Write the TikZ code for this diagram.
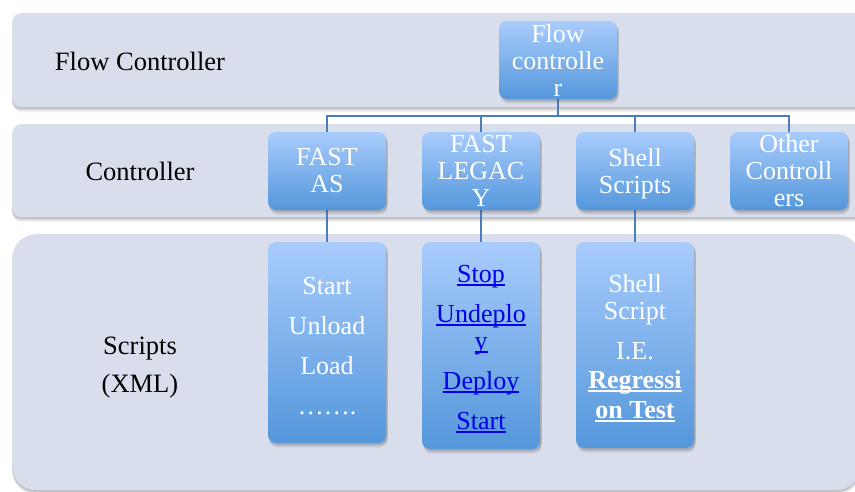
\documentclass[tikz,border=0pt]{standalone}
\usepackage{fontspec}
\setmainfont{Liberation Serif}
\usetikzlibrary{backgrounds}

\definecolor{bandfill}{RGB}{217,222,236}
\definecolor{boxtop}{RGB}{169,204,252}
\definecolor{boxbot}{RGB}{84,151,219}
\definecolor{connline}{RGB}{74,126,187}
\definecolor{linkblue}{RGB}{0,0,230}
\definecolor{shadowgray}{RGB}{60,60,60}

% underline at a fixed depth, crossing descenders
\newcommand\fixul[1]{\setbox0\hbox{#1}\rlap{\rule[-3.5pt]{\wd0}{1.7pt}}\box0}
\newcommand\lnk[1]{{\color{linkblue}\fixul{#1}}}
% taller first line, lowers a centred text block a little
\newcommand\topstrut{\rule{0pt}{24.5pt}}

\tikzset{
  % soft shadow built from a few offset translucent copies
  softshadow/.style={
    preaction={fill=shadowgray, fill opacity=0.10, transform canvas={shift={(#1,-4.5pt)}}},
    preaction={fill=shadowgray, fill opacity=0.12, transform canvas={shift={(#1,-3pt)}}},
    preaction={fill=shadowgray, fill opacity=0.15, transform canvas={shift={(#1,-1.5pt)}}}},
  band/.style={fill=bandfill, draw=none, rounded corners=9pt, anchor=north west, softshadow=0pt},
  bigband/.style={band, rounded corners=24pt},
  lvl/.style={font=\fontsize{26.5}{27}\selectfont, align=center, text=black},
  cbox/.style={top color=boxtop, bottom color=boxbot, draw=none, rounded corners=8pt,
    minimum width=118pt, inner sep=0pt, align=center, text=white,
    font=\fontsize{26}{27}\selectfont, softshadow=1.5pt},
  ctrl/.style={cbox, minimum height=78pt},
  conn/.style={draw=connline, line width=1.8pt},
}

\begin{document}
\begin{tikzpicture}[x=1pt, y=-1pt]
\useasboundingbox (0,0) rectangle (855,491);

% level bands
\begin{scope}[on background layer]
\node[band, minimum width=858pt, minimum height=94pt] (b1) at (12,13) {};
\node[band, minimum width=858pt, minimum height=93pt] (b2) at (12,124) {};
\node[bigband, minimum width=848pt, minimum height=256pt] (b3) at (12,234) {};
\end{scope}

% level labels
\node[lvl] (l1) at (140,61) {Flow Controller};
\node[lvl] (l2) at (140,171) {Controller};
\node[lvl] (l3) at (140,368) {Scripts\\[11pt](XML)};

% tree boxes
\node[ctrl] (flow) at (558,60) {Flow\\controlle\\r};
\node[ctrl] (fastas) at (327,171) {FAST\\AS};
\node[ctrl] (legacy) at (481,171) {FAST\\LEGAC\\Y};
\node[ctrl] (shell) at (635,171) {\topstrut Shell\\Scripts};
\node[ctrl] (other) at (789,171) {Other\\Controll\\ers};

\node[cbox, minimum height=201pt] (sas) at (327,342.5)
  {\topstrut Start\\[13pt]Unload\\[13pt]Load\\[13pt]\ldots\ldots.};
\node[cbox, minimum height=207pt] (slg) at (481,345.5)
  {\topstrut\lnk{Stop}\\[13pt]\lnk{Undeplo}\\\lnk{y}\\[13pt]\lnk{Deploy}\\[13pt]\lnk{Start}};
\node[cbox, minimum height=206pt] (ssh) at (635,345)
  {\topstrut Shell\\Script\\[13pt]I.E.\\[2pt]\textbf{\fixul{Regressi}}\\[3pt]\textbf{\fixul{on Test}}};

% connectors, under the boxes but over the bands
\coordinate (bus) at (0,116);
\begin{scope}[on background layer]
\draw[conn] (flow.south) -- (flow.south |- bus) -| (fastas.north);
\draw[conn] (flow.south |- bus) -| (legacy.north);
\draw[conn] (flow.south |- bus) -| (shell.north);
\draw[conn] (flow.south |- bus) -| (other.north);
\draw[conn] (fastas.south) -- (sas.north);
\draw[conn] (legacy.south) -- (slg.north);
\draw[conn] (shell.south) -- (ssh.north);
\end{scope}
\end{tikzpicture}
\end{document}
